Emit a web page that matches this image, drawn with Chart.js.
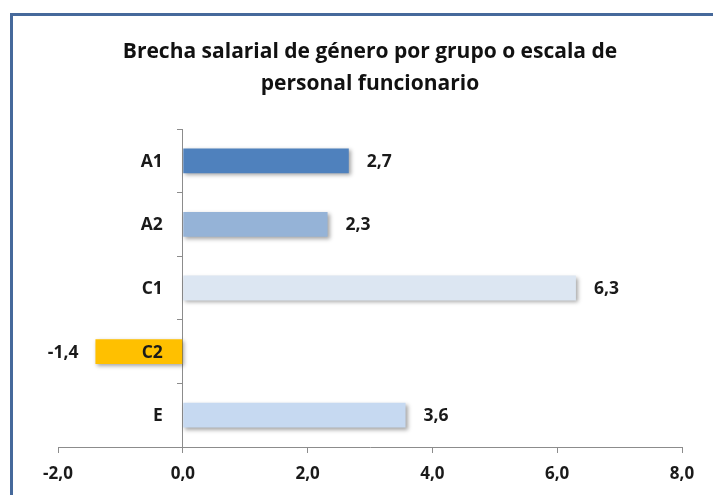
<!DOCTYPE html>
<html>
<head>
<meta charset="utf-8">
<script src="https://cdn.jsdelivr.net/npm/chart.js@4/dist/chart.umd.min.js"></script>
<style>
  html, body { margin: 0; padding: 0; background: #ffffff; overflow: hidden; }
  #wrap { position: relative; width: 713px; height: 495px; }
  #frame { position: absolute; left: 10px; top: 13px; width: 800px; height: 600px;
           border-top: 3px solid #46699B; border-left: 3px solid #46699B; box-sizing: border-box; }
  canvas { position: absolute; left: 0; top: 0; }
</style>
</head>
<body>
<div id="wrap">
  <div id="frame"></div>
  <canvas id="c" width="713" height="495"></canvas>
</div>
<script>
const titleLines = ['Brecha salarial de género por grupo o escala de', 'personal funcionario'];
const categories = ['A1', 'A2', 'C1', 'C2', 'E'];
const values = [2.66, 2.32, 6.3, -1.4, 3.57];
const barColors = ['#4F81BD', '#95B3D7', '#DCE6F2', '#FFC000', '#C6D9F1'];
const xTicks = [-2, 0, 2, 4, 6, 8];

const fmt = v => v.toFixed(1).replace('.', ',');

const shadowAndLabels = {
  id: 'shadowAndLabels',
  beforeDatasetsDraw(chart) {
    const ctx = chart.ctx;
    ctx.save();
    ctx.shadowColor = 'rgba(0,0,0,0.35)';
    ctx.shadowBlur = 4;
    ctx.shadowOffsetX = 2;
    ctx.shadowOffsetY = 2;
  },
  afterDatasetsDraw(chart) {
    const ctx = chart.ctx;
    ctx.restore();
    const meta = chart.getDatasetMeta(0);
    const xs = chart.scales.x, ys = chart.scales.y;
    const x0 = xs.getPixelForValue(0);
    ctx.save();
    ctx.font = 'bold 17.5px "Open Sans"';
    ctx.fillStyle = '#1a1a1a';
    ctx.textBaseline = 'middle';
    // category labels next to the zero axis
    categories.forEach((c, i) => {
      ctx.textAlign = 'right';
      ctx.fillText(c, x0 - 20, ys.getPixelForValue(i) + 1);
    });
    // value labels
    meta.data.forEach((el, i) => {
      const v = values[i];
      if (v >= 0) {
        ctx.textAlign = 'left';
        ctx.fillText(fmt(v), el.x + 18, el.y + 1);
      } else {
        ctx.textAlign = 'right';
        ctx.fillText(fmt(v), el.x - 17, el.y + 1);
      }
    });
    ctx.restore();
  }
};

new Chart(document.getElementById('c'), {
  type: 'bar',
  data: {
    labels: categories,
    datasets: [{
      data: values,
      backgroundColor: barColors,
      borderWidth: 0,
      categoryPercentage: 1.0,
      barPercentage: 0.39
    }]
  },
  options: {
    indexAxis: 'y',
    responsive: false,
    animation: false,
    devicePixelRatio: 1,
    layout: { padding: { left: 58, right: 31, top: 14, bottom: 0 } },
    plugins: {
      legend: { display: false },
      tooltip: { enabled: false },
      title: {
        display: true,
        text: titleLines,
        color: '#111111',
        font: { family: 'Open Sans', size: 21, weight: 'bold', lineHeight: '32px' },
        padding: { top: 22, bottom: 29 }
      }
    },
    scales: {
      x: {
        type: 'linear',
        min: -2, max: 8,
        afterBuildTicks: s => { s.ticks = xTicks.map(v => ({ value: v })); },
        afterFit: s => { s.height = 48; },
        grid: { drawOnChartArea: false, drawTicks: true, tickLength: 6, color: '#8c8c8c' },
        border: { display: true, color: '#8c8c8c', width: 1 },
        ticks: {
          color: '#1a1a1a',
          font: { family: 'Open Sans', size: 17, weight: 'bold' },
          padding: 11,
          maxRotation: 0,
          callback: v => fmt(v)
        }
      },
      y: {
        position: { x: 0 },
        grid: { drawOnChartArea: false, drawTicks: true, tickLength: 5, color: '#8c8c8c', offset: true },
        border: { display: true, color: '#8c8c8c', width: 1 },
        ticks: { display: false }
      }
    }
  },
  plugins: [shadowAndLabels]
});
</script>
</body>
</html>
